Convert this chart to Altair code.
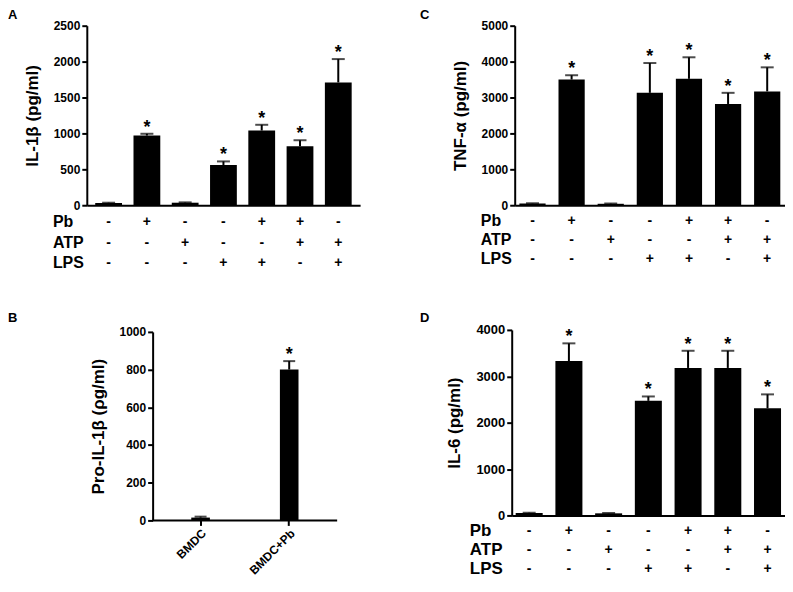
import altair as alt
import pandas as pd

FONT = "Liberation Sans"

# ---- data -------------------------------------------------------------
conditions = ["ctrl", "Pb", "ATP", "LPS", "Pb+LPS", "Pb+ATP", "ATP+LPS"]
pb_signs = ["-", "+", "-", "-", "+", "+", "-"]
atp_signs = ["-", "-", "+", "-", "-", "+", "+"]
lps_signs = ["-", "-", "-", "+", "+", "-", "+"]

il1b_mean = [30, 970, 35, 560, 1040, 820, 1710]
il1b_sem = [5, 25, 5, 50, 80, 85, 325]
il1b_sig = ["", "*", "", "*", "*", "*", "*"]

tnf_mean = [50, 3500, 40, 3130, 3520, 2820, 3170]
tnf_sem = [8, 120, 8, 830, 600, 310, 670]
tnf_sig = ["", "*", "", "*", "*", "*", "*"]

il6_mean = [50, 3330, 45, 2470, 3180, 3180, 2310]
il6_sem = [8, 380, 8, 95, 370, 370, 300]
il6_sig = ["", "*", "", "*", "*", "*", "*"]

pro_groups = ["BMDC", "BMDC+Pb"]
pro_mean = [15, 800]
pro_sem = [5, 45]
pro_sig = ["", "*"]

row_names = ["Pb", "ATP", "LPS"]


def text_layer(s, x, y, size, align="left", baseline="middle"):
    return alt.Chart(pd.DataFrame({"t": [s]})).mark_text(
        align=align, baseline=baseline, fontSize=size, fontWeight="bold",
        font=FONT, color="black"
    ).encode(text="t:N", x=alt.value(x), y=alt.value(y))


def panel(cats, mean, sem, sig, ytitle, ymax, ystep, w, h, pi, po,
          letter, lxy, tick_size=12, title_size=17, table=None,
          row_label_x=-34, row_dy=(17, 38, 58), row_font=16, sign_font=14,
          xlabels=False, cap=13, xrange=None, yoffset=0):
    df = pd.DataFrame({
        "cond": cats,
        "mean": mean,
        "top": [m + s for m, s in zip(mean, sem)],
        "sig": sig,
    })
    if table is not None:
        for name, signs in zip(row_names, table):
            df[name] = signs
    if xrange is not None:
        xscale = alt.Scale(domain=cats, paddingInner=pi, paddingOuter=po,
                           range=xrange)
    else:
        xscale = alt.Scale(domain=cats, paddingInner=pi, paddingOuter=po)
    if xlabels:
        xaxis = alt.Axis(title=None, labelAngle=-45, labelFontSize=12,
                         labelFontWeight="bold", labelFont=FONT,
                         labelColor="black", tickSize=5, tickWidth=2,
                         tickColor="black", domain=False, labelPadding=2)
    else:
        xaxis = alt.Axis(title=None, labels=False, ticks=False,
                         domainWidth=2, domainColor="black")
    yaxis = alt.Axis(title=ytitle, values=list(range(0, ymax + 1, ystep)),
                     format="d", labelOverlap=False,
                     grid=False, labelFontSize=tick_size,
                     labelFontWeight="bold", labelFont=FONT,
                     labelColor="black", tickSize=5, tickWidth=2,
                     tickColor="black", domainWidth=2, domainColor="black",
                     labelPadding=2, titleFontSize=title_size,
                     titleFontWeight="bold", titleFont=FONT,
                     titleColor="black", titlePadding=12, offset=yoffset)
    x = alt.X("cond:N", scale=xscale, axis=xaxis)
    yscale = alt.Scale(domain=[0, ymax], nice=False)
    y_mean = alt.Y("mean:Q", scale=yscale, axis=yaxis)
    y_top = alt.Y("top:Q", scale=yscale, axis=yaxis)
    base = alt.Chart(df)
    bars = base.mark_bar(color="black").encode(x=x, y=y_mean)
    err = base.mark_rule(color="black", strokeWidth=2).encode(
        x=x, y=y_mean, y2="top:Q")
    caps = base.mark_tick(color="black", thickness=2, size=cap).encode(
        x=x, y=y_top)
    stars = base.mark_text(fontSize=18, fontWeight="bold", font=FONT,
                           color="black", baseline="alphabetic",
                           dy=-1).encode(x=x, y=y_top, text="sig:N")
    layers = [bars, err, caps, stars]
    if xrange is not None:
        # x-axis baseline drawn only across the shifted plot range
        layers.append(alt.Chart(pd.DataFrame({"t": [0]})).mark_rule(
            color="black", strokeWidth=2).encode(
            x=alt.value(xrange[0]), x2=alt.value(xrange[1]),
            y=alt.value(h)))
    if table is not None:
        for name, dy in zip(row_names, row_dy):
            layers.append(base.mark_text(
                fontSize=sign_font, fontWeight="bold", font=FONT,
                color="black", baseline="middle").encode(
                x=x, y=alt.value(h + dy), text=f"{name}:N"))
            layers.append(text_layer(name, row_label_x, h + dy, row_font))
    layers.append(text_layer(letter, lxy[0], lxy[1], 13, baseline="top"))
    return alt.layer(*layers).properties(
        width=w, height=h,
        view=alt.ViewBackground(stroke="transparent", strokeWidth=0,
                                strokeOpacity=0))


pA = panel(conditions, il1b_mean, il1b_sem, il1b_sig, "IL-1β (pg/ml)",
           2500, 500, 274, 180, 0.3, 0.22, "A", (-79, -17),
           table=[pb_signs, atp_signs, lps_signs])
pC = panel(conditions, tnf_mean, tnf_sem, tnf_sig, "TNF-α (pg/ml)",
           5000, 1000, 271, 180, 0.33, 0.12, "C", (-95, -17),
           table=[pb_signs, atp_signs, lps_signs], row_dy=(16, 35, 54))
pB = panel(pro_groups, pro_mean, pro_sem, pro_sig, "Pro-IL-1β (ρg/ml)",
           1000, 200, 251, 189, 0.79, 0.436, "B", (-79, -20),
           xlabels=True, cap=12, xrange=[66, 251], yoffset=-66)
pD = panel(conditions, il6_mean, il6_sem, il6_sig, "IL-6 (pg/ml)",
           4000, 1000, 274, 186, 0.32, 0.1, "D", (-92, -18),
           tick_size=13, table=[pb_signs, atp_signs, lps_signs],
           row_label_x=-42, row_dy=(16, 35, 54), row_font=17)

chart = alt.concat(pA, pC, pB, pD, columns=2, align="none",
                   spacing={"row": 41, "column": 60}).properties(
    padding={"left": 0, "top": 0, "right": 0, "bottom": 0}
).configure_view(stroke="transparent", strokeWidth=0,
                 strokeOpacity=0).configure(font=FONT)

chart.save("out.html", embed_options={"renderer": "svg", "actions": False})
